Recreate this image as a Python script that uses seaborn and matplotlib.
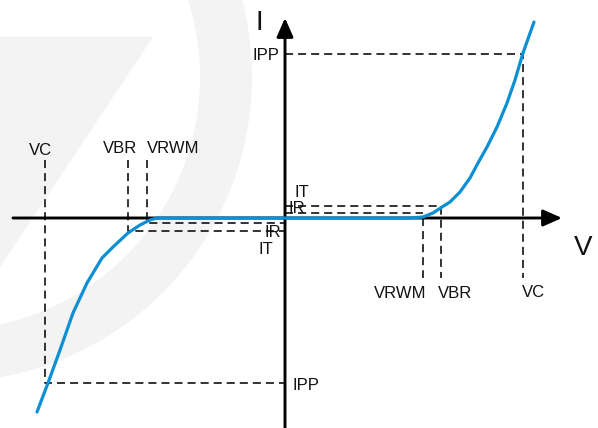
import numpy as np
import matplotlib
matplotlib.use("Agg")
import matplotlib.pyplot as plt
from matplotlib.patches import Wedge, Polygon
import seaborn as sns

# I-V curve of a bidirectional TVS diode (arbitrary units, origin at axis crossing)
iv_v = [-248, -237, -225, -212, -198, -183, -172, -157, -145, -135, -128,
        0, 125, 138, 148, 157, 165, 175, 185, 193, 202, 212, 222, 230, 238, 249]
iv_i = [-194, -165, -132, -95, -65, -40, -29, -15, -7, -2, 0,
        0, 0, 1, 5, 11, 16, 26, 40, 55, 71, 91, 115, 138, 165, 196]

# characteristic levels
vc_pos, vbr_pos, vrwm_pos = 238, 156, 138
vc_neg, vbr_neg, vrwm_neg = -240, -157, -138
ipp_pos, it_pos, ir_pos = 164, 12, 5
ipp_neg, it_neg, ir_neg = -165, -13, -5
guide_top = 58      # where the upper left dashed verticals start
guide_bottom = -60  # where the right dashed verticals end

sns.set_style("white")
plt.rcParams['font.family'] = ['Liberation Sans', 'DejaVu Sans']
plt.rcParams['lines.scale_dashes'] = False

fig = plt.figure(figsize=(5.98, 4.28), dpi=100)
ax = fig.add_axes([0, 0, 1, 1])
ax.set_xlim(-285, 313)
ax.set_ylim(-210, 218)
ax.axis('off')

# faint watermark logo in the background
wm = '#f3f3f3'
ax.add_patch(Wedge((-338, 141), 305, 0, 360, width=52, color=wm, lw=0, zorder=0))
ax.add_patch(Polygon([(-285, 181), (-132, 181), (-285, -49)], closed=True,
                     color=wm, lw=0, zorder=0))

# dashed guide lines
guides = [
    ([0, vc_pos, vc_pos], [ipp_pos, ipp_pos, guide_bottom]),
    ([0, vbr_pos, vbr_pos], [it_pos, it_pos, guide_bottom]),
    ([0, vrwm_pos], [ir_pos, ir_pos]),
    ([vrwm_pos, vrwm_pos], [0, guide_bottom]),
    ([vc_neg, vc_neg, 0], [guide_top, ipp_neg, ipp_neg]),
    ([vbr_neg, vbr_neg, 0], [guide_top, it_neg, it_neg]),
    ([vrwm_neg, vrwm_neg, 0], [guide_top, ir_neg, ir_neg]),
]
for gx, gy in guides:
    ax.plot(gx, gy, color='#111111', lw=1.2, dashes=(5.8, 3.6), zorder=1)

# axes with arrows
arrow = dict(arrowstyle='-|>,head_length=0.95,head_width=0.42', color='black',
             lw=2.1, shrinkA=0, shrinkB=0, mutation_scale=12)
ax.annotate('', xy=(277, 0), xytext=(-272, 0), arrowprops=arrow, zorder=2)
ax.annotate('', xy=(0, 200), xytext=(0, -212), arrowprops=arrow, zorder=2)

# curve
sns.lineplot(x=iv_v, y=iv_i, sort=False, color='#0c8fd3', linewidth=2.3,
             ax=ax, zorder=3)

fs = 12
tc = '#111111'
ax.text(-26, 188, 'I', fontsize=20, ha='center', va='baseline', color=tc)
ax.text(298, -37, 'V', fontsize=20, ha='center', va='baseline', color=tc)
ax.text(-245, 63, 'VC', fontsize=fs, ha='center', va='baseline', color=tc)
ax.text(-165, 65, 'VBR', fontsize=fs, ha='center', va='baseline', color=tc)
ax.text(-112, 65, 'VRWM', fontsize=fs, ha='center', va='baseline', color=tc)
ax.text(-6, 158, 'IPP', fontsize=fs, ha='right', va='baseline', color=tc)
ax.text(10, 21, 'IT', fontsize=fs, ha='left', va='baseline', color=tc)
ax.text(4, 5, 'IR', fontsize=fs, ha='left', va='baseline', color=tc)
ax.text(-4, -19, 'IR', fontsize=fs, ha='right', va='baseline', color=tc)
ax.text(-12, -36, 'IT', fontsize=fs, ha='right', va='baseline', color=tc)
ax.text(8, -172, 'IPP', fontsize=fs, ha='left', va='baseline', color=tc)
ax.text(115, -80, 'VRWM', fontsize=fs, ha='center', va='baseline', color=tc)
ax.text(170, -80, 'VBR', fontsize=fs, ha='center', va='baseline', color=tc)
ax.text(248, -79, 'VC', fontsize=fs, ha='center', va='baseline', color=tc)

fig.savefig('out.png', dpi=100)
